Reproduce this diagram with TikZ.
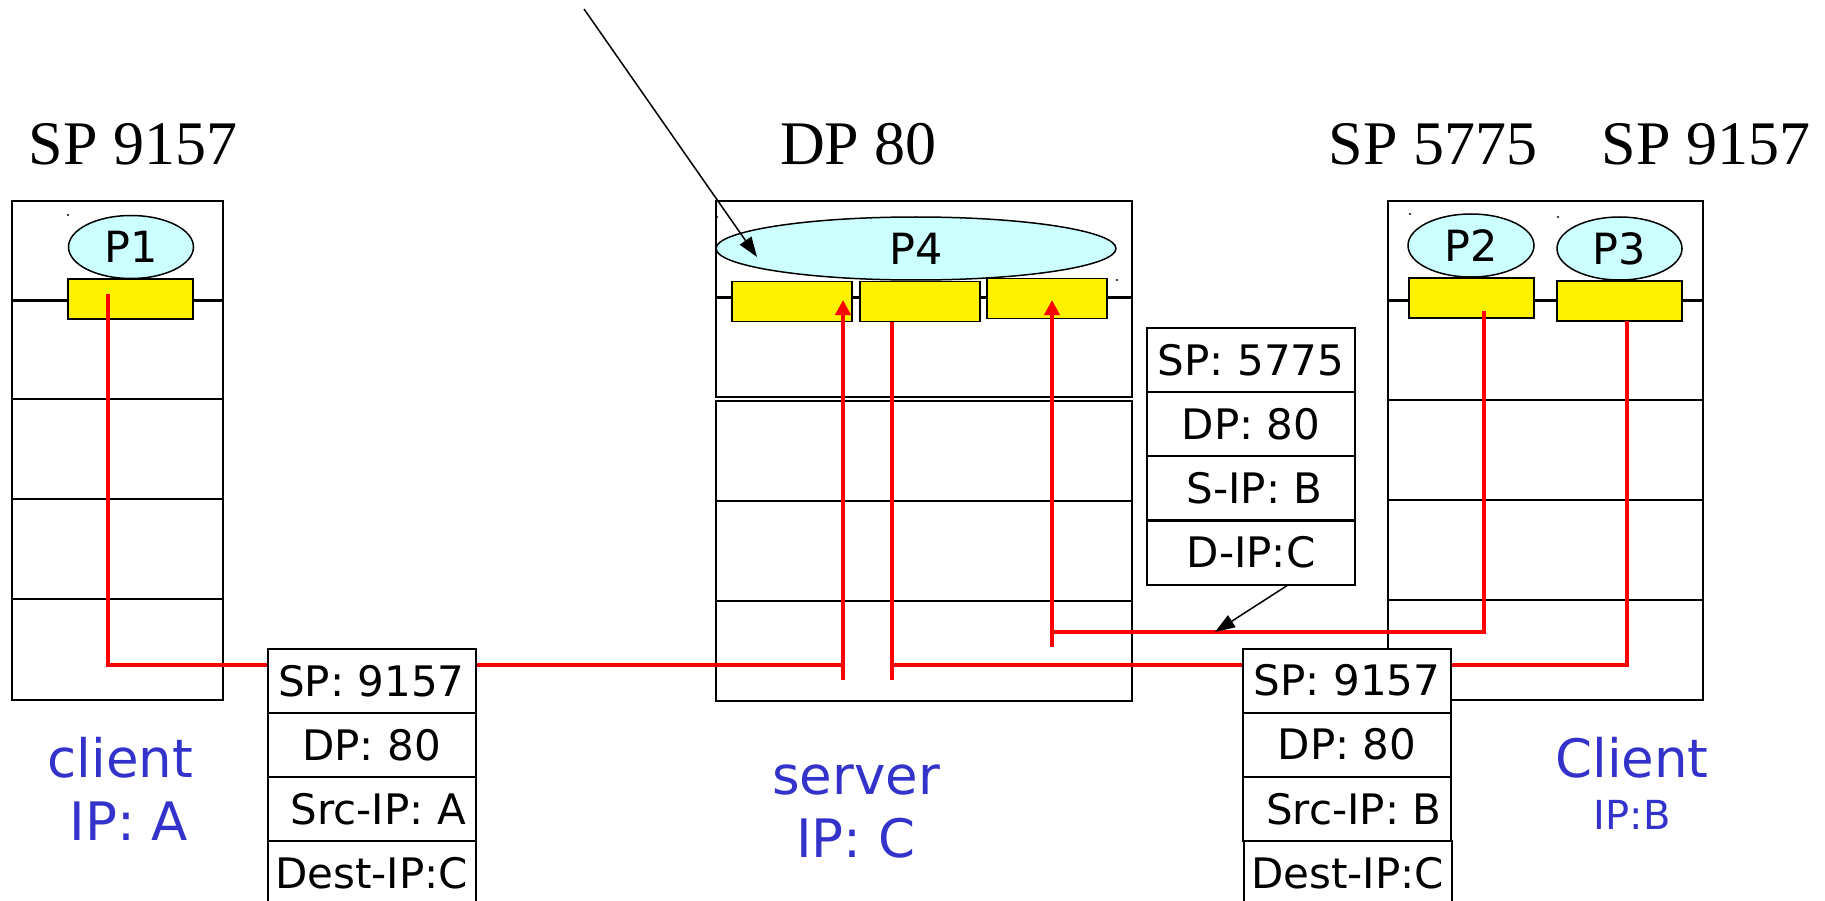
\documentclass[tikz,border=0pt]{standalone}
\usepackage{fontspec}
\setmainfont{Liberation Serif}
\newfontfamily\dejavu{DejaVu Sans}
\usetikzlibrary{arrows.meta,shapes.geometric}
\definecolor{proccyan}{HTML}{CCFFFF}
\definecolor{lblblue}{HTML}{3333CC}
\begin{document}
\begin{tikzpicture}[x=1pt,y=-1pt,
  hostline/.style={line width=2pt},
  toplayer/.style={line width=3pt},
  proc/.style={ellipse, draw, fill=proccyan, line width=1.5pt, inner sep=0pt,
    font=\dejavu\fontsize{43}{45}\selectfont},
  sock/.style={rectangle, draw, fill=yellow, line width=1.8pt, inner sep=0pt,
    minimum width=120pt, minimum height=40pt},
  field/.style={rectangle, draw, fill=white, line width=2pt, inner sep=0pt,
    minimum width=208pt, minimum height=64pt,
    font=\dejavu\fontsize{42}{45}\selectfont},
  flow/.style={draw=red, line width=4pt},
  redtip/.style={-{Triangle[length=15pt,width=15pt]}},
  blacktip/.style={-{Triangle[length=20pt,width=14pt]}},
  hdr/.style={anchor=base, inner sep=0pt, font=\fontsize{62}{66}\selectfont},
  lbl/.style={anchor=base, inner sep=0pt, text=lblblue,
    font=\dejavu\fontsize{53}{56}\selectfont},
  lblsmall/.style={anchor=base, inner sep=0pt, text=lblblue,
    font=\dejavu\fontsize{40}{44}\selectfont}
]
\useasboundingbox (0,0) rectangle (1825,901);

% ---------- host A ----------
\draw[hostline, fill=white] (12,201) rectangle (223,700);
\draw[toplayer] (12,300) -- (223,300);
\draw[hostline] (12,399) -- (223,399);
\draw[hostline] (12,499) -- (223,499);
\draw[hostline] (12,599) -- (223,599);
\node[proc, minimum width=125pt, minimum height=63pt] (p1) at (131,247) {P1};
\node[sock, minimum width=125pt] (s1) at (130.5,299) {};

% ---------- server C ----------
\draw[hostline, fill=white] (716,201) rectangle (1132,397);
\draw[toplayer] (716,297) -- (1132,297);
\draw[hostline, fill=white] (716,401) rectangle (1132,701);
\draw[hostline] (716,501) -- (1132,501);
\draw[hostline] (716,601) -- (1132,601);
\node[proc, minimum width=400pt, minimum height=63pt] (p4) at (916,248.5) {P4};
\node[sock] (s4a) at (792,301.5) {};
\node[sock] (s4b) at (920,301.5) {};
\node[sock] (s4c) at (1047,298.5) {};

% ---------- host B ----------
\draw[hostline, fill=white] (1388,201) rectangle (1703,700);
\draw[toplayer] (1388,300) -- (1703,300);
\draw[hostline] (1388,400) -- (1703,400);
\draw[hostline] (1388,500) -- (1703,500);
\draw[hostline] (1388,600) -- (1703,600);
\node[proc, minimum width=126pt, minimum height=63pt] (p2) at (1471,245.5) {P2};
\node[proc, minimum width=125pt, minimum height=63pt] (p3) at (1619.5,248.5) {P3};
\node[sock, minimum width=125pt] (s2) at (1471.5,298) {};
\node[sock, minimum width=125pt] (s3) at (1619.5,301) {};

% small stray marks
\fill (68,215) circle (1.2pt);
\fill (717,217) circle (1.2pt);
\fill (1117,280) circle (1.2pt);
\fill (1410,214) circle (1.2pt);
\fill (1558,217) circle (1.2pt);

% ---------- red flows ----------
\coordinate (a1) at (108,294);
\coordinate (a2) at (843,665);
\coordinate (a3) at (843,680);
\coordinate (a4) at (843,300);
\draw[flow] (a1) |- (a2);
\draw[flow, redtip] (a3) -- (a4);

\coordinate (b1) at (892,322);
\coordinate (b2) at (892,680);
\coordinate (b3) at (892,665);
\coordinate (b4) at (1627,321);
\draw[flow] (b1) -- (b2);
\draw[flow] (b3) -| (b4);

\coordinate (c1) at (1484,311);
\coordinate (c2) at (1052,632);
\coordinate (c3) at (1052,647);
\coordinate (c4) at (1052,300);
\draw[flow] (c1) |- (c2);
\draw[flow, redtip] (c3) -- (c4);

% ---------- packets ----------
\node[field] (pa1) at (371.5,681) {SP: 9157};
\node[field] (pa2) at (371.5,745) {DP: 80};
\node[field] (pa3) at (371.5,809) {\ Src-IP: A};
\node[field] (pa4) at (371.5,873) {Dest-IP:C};

\node[field] (pb1) at (1251,360) {SP: 5775};
\node[field] (pb2) at (1251,424) {DP: 80};
\node[field] (pb3) at (1251,488) {\,S-IP: B};
\node[field] (pb4) at (1251,552.5) {D-IP:C};

\node[field] (pc1) at (1347,680.5) {SP: 9157};
\node[field] (pc2) at (1347,744.5) {DP: 80};
\node[field] (pc3) at (1347,809) {\ Src-IP: B};
\node[field] (pc4) at (1347.5,873) {Dest-IP:C};

% ---------- black arrows ----------
\coordinate (d1) at (1288,585);
\coordinate (d2) at (1215,632);
\draw[line width=1.5pt, blacktip] (d1) -- (d2);

\coordinate (t1) at (584,9);
\coordinate (t2) at (757,257);
\draw[line width=1.5pt, blacktip] (t1) -- (t2);

% ---------- headers ----------
\node[hdr] (h1) at (133,165) {SP 9157};
\node[hdr] (h2) at (858.5,165) {DP 80};
\node[hdr] (h3) at (1433,165) {SP 5775};
\node[hdr] (h4) at (1706,165) {SP 9157};

% ---------- labels ----------
\node[lbl] (l1) at (120.5,777) {client};
\node[lbl] (l2) at (129,840) {IP: A};
\node[lbl] (l3) at (856,794) {server};
\node[lbl] (l4) at (856,857) {IP: C};
\node[lbl] (l5) at (1632,777) {Client};
\node[lblsmall] (l6) at (1632,829) {IP:B};
\end{tikzpicture}
\end{document}
